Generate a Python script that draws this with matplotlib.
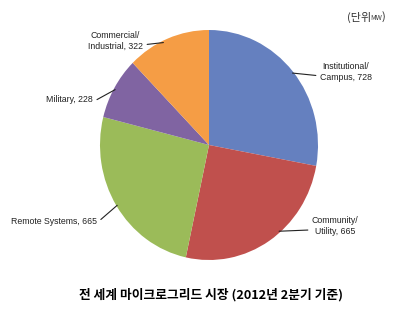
import numpy as np
import matplotlib
matplotlib.use("Agg")
import matplotlib.pyplot as plt

labels = ["Institutional/\nCampus, 728", "Community/\nUtility, 665",
          "Remote Systems, 665", "Military, 228", "Commercial/\nIndustrial, 322"]
values = [728, 665, 665, 228, 322]
colors = ["#6580BF", "#C0504D", "#9BBB59", "#8064A2", "#F59D45"]

title = "전 세계 마이크로그리드 시장 (2012년 2분기 기준)"

W, H = 402, 312
CX, CY, RX, RY = 209, 145, 109, 115


def px(x, y):
    # image pixel position -> data coords (pie centre at 0,0, radius 1)
    return (x - CX) / RX, (CY - y) / RY


# label text anchors (pixels), alignment, where the leader touches the wedge
label_pos = [(320, 72, "left", 0.5), (312, 226, "left", 0.57), (97, 221, "right", 0.5),
             (93, 100, "right", 0.5), (143, 41, "right", 0.55)]


def main():
    fig = plt.figure(figsize=(W / 100, H / 100), dpi=100)
    ax = fig.add_axes([0, 0, 1, 1])
    wedges, _ = ax.pie(values, colors=colors, startangle=90, counterclock=False,
                       radius=1, wedgeprops=dict(linewidth=0))
    ax.set_aspect("auto")
    ax.set_xlim(-CX / RX, (W - CX) / RX)
    ax.set_ylim(-(H - CY) / RY, CY / RY)
    ax.axis("off")

    for w, lab, (tx, ty, ha, frac) in zip(wedges, labels, label_pos):
        ang = np.deg2rad(w.theta1 + (w.theta2 - w.theta1) * frac)
        edge = (np.cos(ang) * 0.98, np.sin(ang) * 0.98)
        ax.annotate(lab, xy=edge, xytext=px(tx, ty), ha=ha, va="center",
                    multialignment="center", fontsize=6.3,
                    family=["Liberation Sans", "DejaVu Sans"], color="#222222",
                    arrowprops=dict(arrowstyle="-", color="#222222", lw=0.8,
                                    shrinkA=1, shrinkB=1,
                                    relpos=(0 if ha == "left" else 1, 0.3)))

    fig.text(347 / W, 1 - 17 / H, "(단위", fontsize=8, family=["Noto Sans CJK KR"],
             color="#333333", ha="left", va="center")
    fig.text(370 / W, 1 - 18 / H, "MW", fontsize=5, family=["Noto Sans CJK KR"],
             color="#333333", ha="left", va="center")
    fig.text(382 / W, 1 - 17 / H, ")", fontsize=8, family=["Noto Sans CJK KR"],
             color="#333333", ha="left", va="center")
    fig.text(211 / W, 1 - 295 / H, title, fontsize=9.2, fontweight="bold",
             family=["Noto Sans CJK KR", "DejaVu Sans"], ha="center", va="center")

    fig.savefig("out.png", dpi=100, facecolor="white")


if __name__ == "__main__":
    main()
